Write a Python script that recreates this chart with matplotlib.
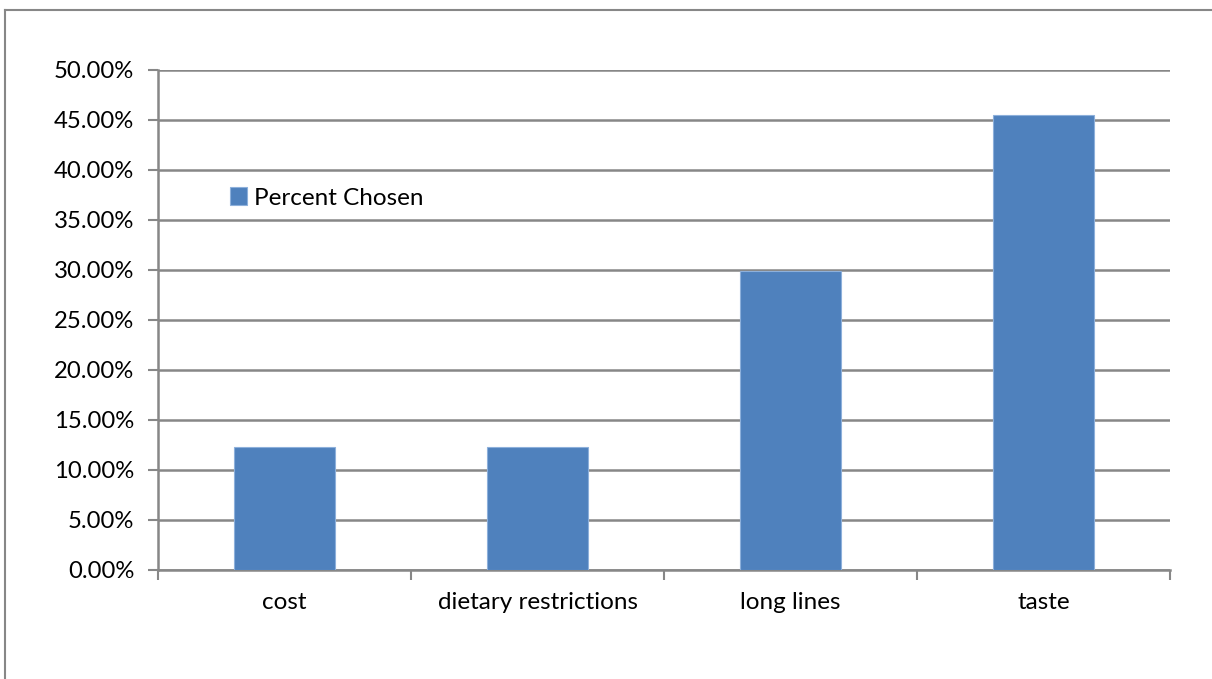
import matplotlib.pyplot as plt
from matplotlib.lines import Line2D
from matplotlib.ticker import FixedLocator, PercentFormatter

categories = ["cost", "dietary restrictions", "long lines", "taste"]
percent_chosen = [12.3, 12.3, 29.9, 45.5]
y_ticks = [0, 5, 10, 15, 20, 25, 30, 35, 40, 45, 50]

plt.rcParams["font.family"] = ["Lato", "DejaVu Sans"]
grey = "#878787"

fig = plt.figure(figsize=(12.12, 6.79), dpi=100)
ax = fig.add_axes([158 / 1212, 1 - 570 / 679, 1012 / 1212, 500 / 679])

x = range(len(categories))
ax.bar(x, percent_chosen, width=0.4, color="#4F81BD", edgecolor="#8DB0DB",
       linewidth=0.8, label="Percent Chosen", zorder=3)

ax.set_xlim(-0.5, len(categories) - 0.5)
ax.set_ylim(0, 50)
ax.set_yticks(y_ticks)
ax.yaxis.set_major_formatter(PercentFormatter(decimals=2))

# category names centred, tick marks on the boundaries between categories
ax.set_xticks(list(x))
ax.set_xticklabels(categories)
ax.xaxis.set_minor_locator(FixedLocator([i - 0.5 for i in range(len(categories) + 1)]))
ax.tick_params(axis="x", which="major", length=0, pad=16, labelsize=17.5)
ax.tick_params(axis="x", which="minor", length=7, width=1.5, color=grey, direction="out")
ax.tick_params(axis="y", length=7, width=1.5, color=grey, direction="out", pad=10, labelsize=17.2)

ax.grid(axis="y", color=grey, linewidth=1.8, zorder=0)
ax.set_axisbelow(True)
for side in ["top", "right"]:
    ax.spines[side].set_visible(False)
for side in ["left", "bottom"]:
    ax.spines[side].set_color(grey)
    ax.spines[side].set_linewidth(1.8)

ax.legend(loc="center left", bbox_to_anchor=((230 - 158) / 1012, 1 - (198 - 70) / 500),
          frameon=False, fontsize=17.5, handlelength=0.7, handleheight=0.7,
          handletextpad=0.3, borderpad=0, borderaxespad=0)

# outer chart frame
fig.add_artist(Line2D([5 / 1212, 5 / 1212], [0, 1 - 10 / 679], color=grey, linewidth=1.5))
fig.add_artist(Line2D([5 / 1212, 1], [1 - 10 / 679, 1 - 10 / 679], color=grey, linewidth=1.5))

fig.savefig("out.png", dpi=100)
